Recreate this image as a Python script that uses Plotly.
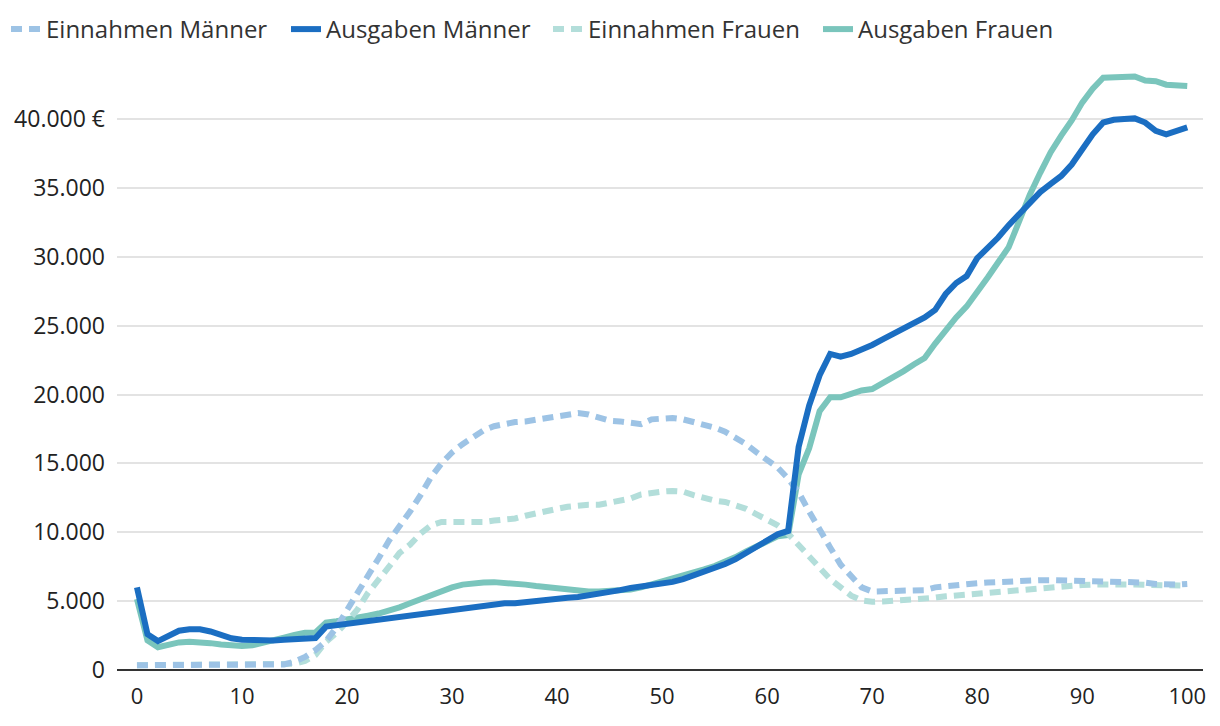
import plotly.graph_objects as go

ages = list(range(0, 101))

ausgaben_maenner = [
    6000, 2600, 2100, 2500, 2850, 2950, 2950, 2800, 2550, 2300,
    2200, 2150, 2120, 2150, 2200, 2250, 2300, 2320, 3150, 3250,
    3350, 3500, 3650, 3750, 3850, 3900, 4000, 4050, 4150, 4250,
    4350, 4450, 4550, 4650, 4750, 4850, 4850, 4950, 5050, 5100,
    5200, 5250, 5300, 5400, 5500, 5650, 5800, 5950, 6050, 6150,
    6250, 6400, 6600, 6850, 7100, 7400, 7700, 8050, 8500, 9000,
    9450, 9850, 10100, 16200, 19200, 21400, 22950, 22750, 22950, 23250,
    23600, 24000, 24400, 24800, 25200, 25600, 26150, 27300, 28100, 28600,
    29900, 30600, 31400, 32300, 33100, 34000, 34700, 35300, 35870, 36700,
    37900, 38900, 39750, 39950, 40000, 40050, 39750, 39150, 38900, 39200,
    39400,
]

ausgaben_frauen = [
    5150, 2150, 1650, 1850, 2000, 2050, 2050, 1950, 1850, 1780,
    1750, 1800, 1950, 2150, 2350, 2550, 2700, 2720, 3450, 3550,
    3650, 3800, 3950, 4100, 4300, 4550, 4850, 5150, 5500, 5800,
    6000, 6200, 6300, 6350, 6380, 6350, 6250, 6200, 6100, 6000,
    5900, 5800, 5750, 5700, 5700, 5720, 5780, 5850, 6000, 6200,
    6400, 6600, 6800, 7050, 7300, 7550, 7850, 8200, 8600, 9000,
    9400, 9700, 9800, 14200, 16100, 18800, 19800, 19800, 20050, 20300,
    20400, 20800, 21200, 21700, 22200, 22650, 23700, 24700, 25600, 26400,
    27400, 28500, 29600, 30700, 32600, 34500, 36100, 37600, 38800, 39900,
    41200, 42200, 43000, 43050, 43050, 43100, 42800, 42750, 42500, 42480,
    42400,
]

einnahmen_maenner = [
    350, 350, 350, 350, 350, 350, 350, 350, 350, 350,
    350, 350, 350, 360, 400, 600, 950, 1450, 2100, 3100,
    4300, 5500, 6800, 8100, 9400, 10400, 11500, 12700, 14000, 15000,
    15800, 16400, 16900, 17400, 17700, 17900, 18000, 18050, 18150, 18300,
    18400, 18550, 18650, 18550, 18350, 18100, 18050, 18000, 17850, 18200,
    18300, 18300, 18200, 18000, 17850, 17600, 17300, 16900, 16400, 15800,
    15300, 14700, 13900, 12900, 11500, 10100, 8900, 7650, 6800, 6000,
    5700, 5700, 5700, 5720, 5750, 5800, 6000, 6100, 6150, 6250,
    6300, 6350, 6400, 6450, 6480, 6500, 6520, 6520, 6500, 6480,
    6470, 6480, 6500, 6500, 6480, 6450, 6350, 6250, 6200, 6200,
    6250,
]

einnahmen_frauen = [
    350, 350, 350, 350, 350, 350, 350, 350, 350, 350,
    350, 350, 350, 350, 380, 450, 650, 1100, 2050, 2700,
    3500, 4400, 5600, 6500, 7500, 8500, 9100, 9900, 10500, 10750,
    10750, 10700, 10650, 10750, 10850, 10900, 11000, 11200, 11400, 11550,
    11700, 11850, 11950, 12000, 12000, 12150, 12300, 12450, 12750, 12900,
    12950, 13000, 12950, 12700, 12450, 12300, 12200, 11950, 11700, 11300,
    10950, 10500, 9900, 9100, 8200, 7350, 6600, 6000, 5400, 5050,
    4950, 4980, 5020, 5050, 5100, 5150, 5250, 5350, 5420, 5500,
    5570, 5620, 5680, 5740, 5800, 5850, 5920, 5980, 6050, 6120,
    6170, 6200, 6220, 6240, 6230, 6200, 6180, 6160, 6140, 6130,
    6130,
]

y_tickvals = [0, 5000, 10000, 15000, 20000, 25000, 30000, 35000, 40000]
y_ticktext = ["0", "5.000", "10.000", "15.000", "20.000", "25.000", "30.000", "35.000", "40.000 €"]
x_tickvals = [0, 10, 20, 30, 40, 50, 60, 70, 80, 90, 100]

C_AM = "#1B6EC2"
C_EM = "#9DC3E5"
C_AF = "#7AC5BC"
C_EF = "#B3DEDA"
DASH = "11px,7px"

W, H = 1220, 726

fig = go.Figure()
# draw order: bottom to top; each trace gets its own one-item legend
fig.add_trace(go.Scatter(x=ages, y=ausgaben_frauen, name="Ausgaben Frauen", mode="lines",
                         line=dict(color=C_AF, width=6), legend="legend4"))
fig.add_trace(go.Scatter(x=ages, y=einnahmen_frauen, name="Einnahmen Frauen", mode="lines",
                         line=dict(color=C_EF, width=6, dash=DASH), legend="legend3"))
fig.add_trace(go.Scatter(x=ages, y=einnahmen_maenner, name="Einnahmen Männer", mode="lines",
                         line=dict(color=C_EM, width=6, dash=DASH), legend="legend"))
fig.add_trace(go.Scatter(x=ages, y=ausgaben_maenner, name="Ausgaben Männer", mode="lines",
                         line=dict(color=C_AM, width=6), legend="legend2"))


def leg(xpx):
    return dict(orientation="h", x=xpx / W, xref="container", y=1 - 7 / H, yref="container",
                xanchor="left", yanchor="top", itemwidth=30,
                font=dict(family="Open Sans", size=24, color="#333333"),
                bgcolor="rgba(0,0,0,0)")


fig.update_layout(
    width=W, height=H,
    margin=dict(l=117, r=17, t=56, b=56),
    paper_bgcolor="white", plot_bgcolor="white",
    font=dict(family="Open Sans", size=22, color="#222222"),
    showlegend=True,
    legend=leg(6), legend2=leg(286), legend3=leg(548), legend4=leg(818),
    xaxis=dict(range=[-1.9, 101.5], tickvals=x_tickvals, showgrid=False, zeroline=False,
               showline=False, ticks="", ticklabelstandoff=11,
               tickfont=dict(size=22, color="#222222")),
    yaxis=dict(range=[0, 44000], tickvals=y_tickvals, ticktext=y_ticktext,
               showgrid=True, gridcolor="#E3E3E3", gridwidth=2,
               zeroline=True, zerolinecolor="#333333", zerolinewidth=2,
               ticks="", ticklabelstandoff=11, tickfont=dict(size=23, color="#222222")),
)

fig.write_html("out.html", config={"displayModeBar": False},
               post_script="document.body.style.margin='0';document.body.style.overflow='hidden';")
